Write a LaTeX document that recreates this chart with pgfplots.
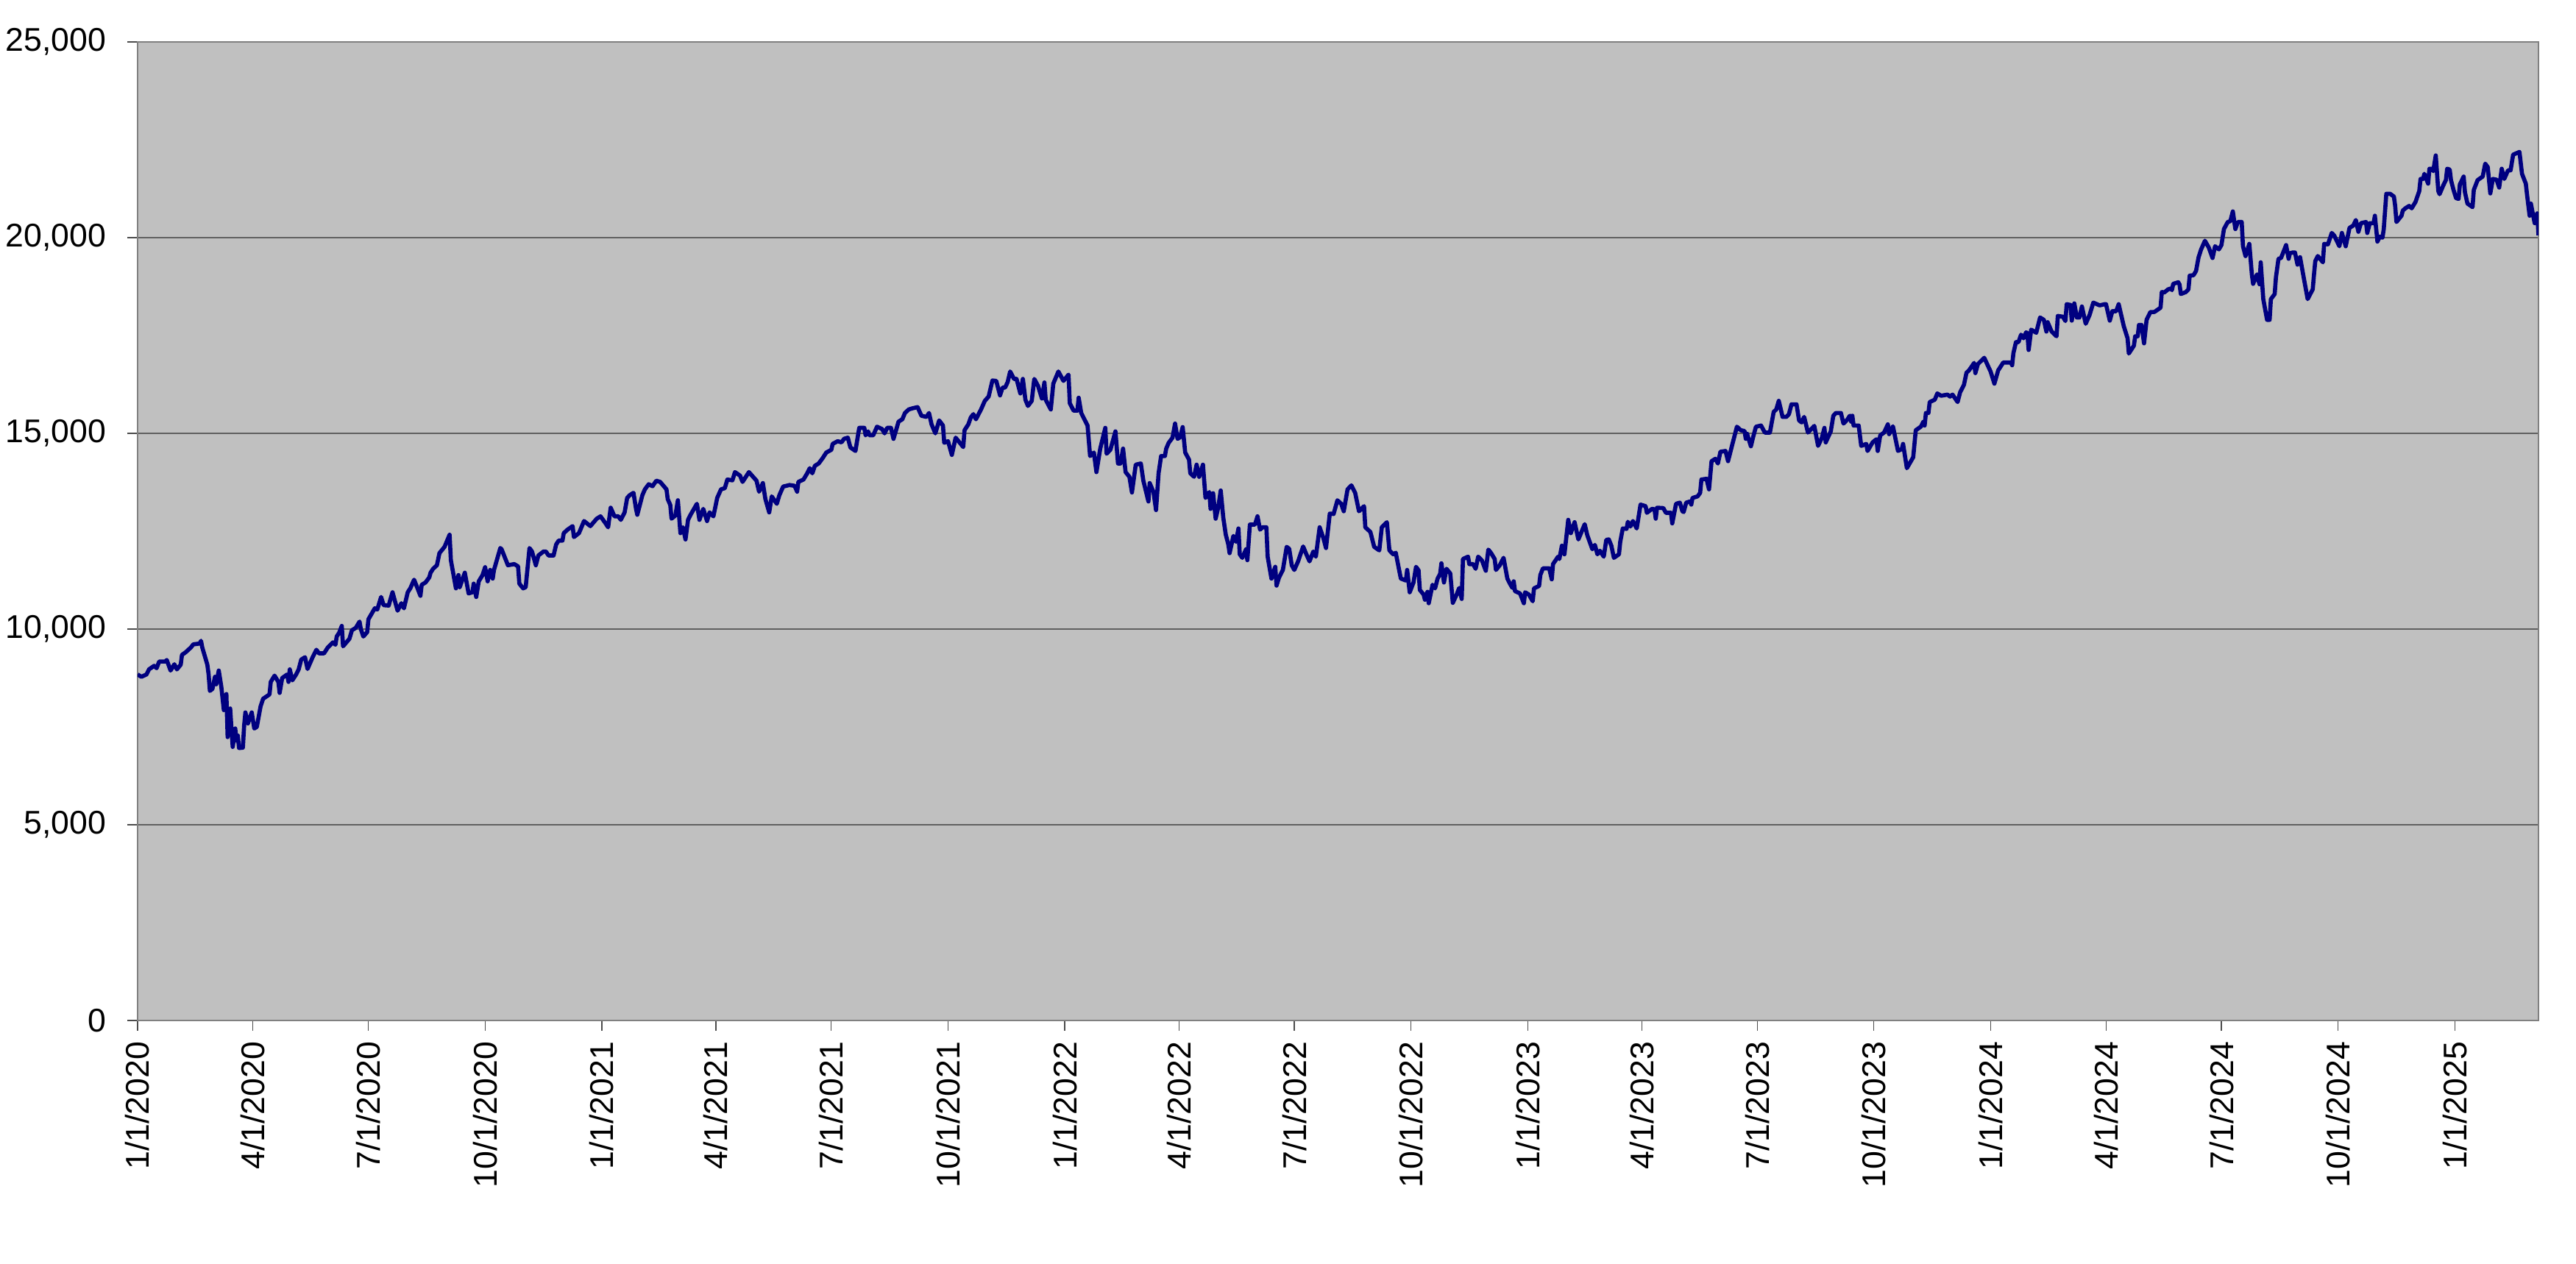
\documentclass[border=0pt]{standalone}
\usepackage{pgfplots}
\pgfplotsset{compat=1.18}
\usepackage{fontspec}
\setmainfont{Liberation Sans}
\definecolor{plotbg}{HTML}{C0C0C0}
\definecolor{navyline}{HTML}{000080}
\definecolor{gridc}{HTML}{606060}
\definecolor{framec}{HTML}{808080}
\begin{document}
\begin{tikzpicture}
\useasboundingbox (-18.7mm,-33mm) rectangle (331.4mm,138.7mm);
\begin{axis}[
  at={(0,0)}, anchor=south west,
  scale only axis, width=326.3mm, height=133mm,
  xmin=0, xmax=1893, ymin=0, ymax=25000,
  scaled ticks=false,
  axis background/.style={fill=plotbg},
  axis line style={draw=framec, line width=0.8pt},
  ytick={0,5000,10000,15000,20000,25000},
  xtick={0,91,182,274,366,456,547,639,731,821,912,1004,1096,1186,1277,1369,1461,1552,1643,1735,1827},
  xticklabels={1/1/2020,4/1/2020,7/1/2020,10/1/2020,1/1/2021,4/1/2021,7/1/2021,10/1/2021,1/1/2022,4/1/2022,7/1/2022,10/1/2022,1/1/2023,4/1/2023,7/1/2023,10/1/2023,1/1/2024,4/1/2024,7/1/2024,10/1/2024,1/1/2025},
  xtick pos=bottom, ytick pos=left,
  tick align=outside, major tick length=1.4mm,
  tick style={draw=black!70, line width=0.35pt},
  ymajorgrids, grid style={draw=gridc, line width=0.5pt},
  /pgf/number format/.cd, 1000 sep={,}, assume math mode=true, fixed,
  /pgfplots/.cd,
  ticklabel style={font=\fontsize{12.7}{15}\selectfont, text=black},
  yticklabel style={inner sep=0pt, xshift=-2.8mm},
  xticklabel style={inner sep=0pt, yshift=-1.4mm, rotate=90, anchor=east},
]
\addplot[navyline, line width=1.6pt, mark=none, line join=round] coordinates {
(0,8840)(3,8780)(7,8840)(9,8970)(13,9060)(15,9000)(17,9170)(22,9170)(23,9210)(26,8940)(29,9100)(31,8970)(34,9090)(35,9340)(38,9410)(42,9530)(44,9610)(49,9630)(50,9700)(51,9530)(55,9090)(56,8840)(57,8420)(59,8470)(61,8780)(62,8590)(64,8940)(66,8530)(68,7930)(70,8340)(71,7240)(73,7970)(74,7460)(75,6990)(77,7460)(78,7150)(79,7280)(80,6960)(83,6970)(84,7530)(85,7870)(87,7590)(90,7870)(92,7460)(94,7500)(97,8030)(99,8220)(104,8330)(105,8650)(108,8810)(111,8650)(112,8370)(114,8750)(118,8840)(119,8650)(120,8970)(122,8690)(125,8840)(127,8970)(129,9220)(132,9280)(134,8980)(138,9280)(141,9470)(143,9380)(147,9380)(150,9530)(154,9660)(156,9600)(157,9810)(159,9910)(161,10080)(162,9560)(167,9750)(169,9970)(172,10030)(175,10190)(176,10000)(178,9810)(181,9920)(182,10250)(187,10530)(189,10500)(192,10820)(194,10610)(198,10600)(199,10720)(201,10940)(205,10470)(208,10660)(210,10530)(213,10940)(215,11040)(218,11260)(220,11100)(223,10850)(224,11130)(227,11190)(230,11320)(231,11440)(233,11540)(236,11630)(238,11940)(242,12100)(246,12410)(247,11760)(251,11040)(253,11380)(254,11070)(258,11440)(261,10910)(264,10940)(265,11160)(267,10820)(269,11220)(272,11380)(274,11580)(276,11220)(278,11510)(280,11290)(281,11510)(286,12070)(287,12040)(292,11630)(297,11660)
(300,11600)(301,11160)(304,11040)(306,11070)(309,12070)(311,11980)(314,11630)(316,11880)(320,11980)(322,11980)(324,11880)(328,11880)(330,12160)(332,12260)(335,12260)(336,12450)(339,12540)(343,12630)(344,12350)(348,12450)(352,12760)(357,12630)(362,12820)(365,12880)(369,12700)(371,12600)(373,13100)(376,12880)(379,12880)(381,12790)(384,12980)(386,13350)(388,13420)(391,13480)(393,13070)(394,12920)(398,13420)(400,13570)(403,13700)(406,13650)(409,13790)(412,13760)(417,13570)(418,13320)(420,13170)(421,12820)(424,12900)(426,13290)(428,12450)(430,12600)(432,12290)(434,12790)(436,12920)(441,13200)(443,12790)(446,13070)(449,12760)(451,12980)(454,12880)(457,13350)(460,13570)(463,13600)(465,13820)(469,13800)(471,14010)(475,13920)(477,13760)(482,14010)(485,13900)(488,13790)(490,13510)(493,13730)(495,13320)(498,12980)(500,13390)(504,13200)(506,13420)(509,13640)(514,13680)(518,13660)(520,13510)(521,13760)(525,13820)(528,13980)(530,14110)(532,13980)(534,14170)(537,14230)(540,14360)(543,14510)(547,14580)(548,14730)(552,14800)(555,14770)(557,14860)(560,14890)(562,14640)(566,14550)(568,14950)(569,15140)(573,15140)(574,14950)(576,15050)(577,14950)(580,14950)(583,15170)(587,15110)(589,15000)(591,15140)(594,15140)(596,14860)(600,15300)(603,15360)(605,15520)(608,15610)(611,15640)(615,15670)(618,15450)(622,15420)(624,15520)(626,15230)(629,15000)(632,15330)(635,15200)(636,14760)
(639,14800)(642,14450)(645,14890)(648,14770)(651,14650)(652,15080)(655,15230)(657,15410)(659,15490)(661,15360)(665,15610)(668,15830)(671,15940)(674,16350)(677,16340)(680,15970)(682,16170)(684,16170)(686,16310)(688,16580)(691,16390)(693,16390)(696,16020)(698,16390)(700,15860)(702,15700)(705,15830)(707,16390)(710,16210)(713,15890)(715,16300)(716,15860)(720,15610)(722,16270)(726,16580)(730,16340)(734,16500)(735,15770)(738,15580)(741,15580)(742,15910)(744,15520)(749,15200)(751,14420)(754,14510)(756,14010)(759,14610)(763,15140)(764,14480)(767,14580)(771,15050)(773,14230)(775,14230)(777,14610)(779,14010)(782,13890)(784,13490)(787,14200)(791,14230)(793,13790)(797,13260)(798,13730)(801,13500)(803,13040)(805,13980)(807,14420)(810,14420)(811,14610)(813,14760)(816,14890)(818,15250)(820,14860)(822,14900)(824,15160)(826,14510)(829,14330)(830,13980)(833,13890)(835,14200)(837,13890)(840,14200)(842,13350)(845,13500)(846,13070)(848,13470)(850,12820)(852,13100)(854,13540)(856,12850)(858,12410)(860,12160)(861,11940)(864,12380)(866,12230)(868,12570)(869,11910)(871,11820)(874,12040)(875,11760)(877,12670)(881,12670)(883,12880)(885,12540)(887,12600)(890,12600)(891,11850)(894,11290)(897,11590)(898,11110)(900,11320)(903,11510)(906,12100)(908,12050)(910,11630)(912,11510)(915,11730)(919,12110)(921,11950)(924,11730)(927,11980)(929,11850)(932,12600)(935,12320)(937,12070)(940,12950)(943,12940)(946,13290)(949,13200)(951,13010)(954,13570)(957,13670)(960,13480)(963,13010)(967,13140)(968,12600)(972,12480)(975,12100)(979,12010)(981,12600)(985,12730)(987,12010)(990,11910)(992,11950)
(996,11290)(1000,11240)(1001,11510)(1003,10940)(1006,11190)(1008,11590)(1010,11500)(1011,11000)(1014,10880)(1015,10750)(1017,10950)(1018,10660)(1021,11130)(1023,11040)(1025,11290)(1027,11410)(1028,11680)(1030,11190)(1032,11540)(1035,11420)(1037,10670)(1040,10880)(1042,11050)(1044,10770)(1045,11790)(1049,11850)(1050,11660)(1053,11660)(1055,11540)(1057,11850)(1060,11750)(1063,11490)(1065,12030)(1067,11950)(1070,11790)(1071,11510)(1074,11630)(1077,11820)(1080,11290)(1082,11160)(1084,11050)(1085,11220)(1086,10970)(1090,10910)(1093,10660)(1094,10940)(1097,10880)(1100,10710)(1101,11040)(1105,11100)(1106,11380)(1108,11550)(1113,11550)(1115,11270)(1116,11660)(1120,11850)(1121,11790)(1123,12130)(1125,11910)(1128,12790)(1130,12450)(1133,12730)(1136,12290)(1141,12680)(1143,12400)(1147,12040)(1149,12150)(1151,11910)(1153,12000)(1156,11850)(1158,12280)(1160,12290)(1162,12130)(1164,11820)(1168,11910)(1169,12230)(1171,12570)(1174,12560)(1175,12740)(1177,12620)(1179,12760)(1182,12570)(1185,13180)(1189,13140)(1190,12970)(1194,13070)(1196,13060)(1197,12820)(1198,13100)(1203,13090)(1205,12970)(1209,12970)(1210,12700)(1213,13200)(1216,13230)(1218,13010)(1219,12990)(1221,13230)(1224,13260)(1225,13180)(1226,13350)(1230,13390)(1232,13480)(1233,13820)(1237,13840)(1239,13570)(1241,14290)(1244,14350)(1246,14230)(1248,14530)(1252,14550)(1254,14290)(1257,14670)
(1261,15170)(1264,15080)(1267,15060)(1268,14860)(1269,14990)(1272,14670)(1274,14930)(1276,15170)(1280,15200)(1283,15020)(1287,15020)(1290,15550)(1292,15610)(1294,15830)(1297,15420)(1300,15420)(1302,15490)(1304,15740)(1308,15740)(1310,15330)(1312,15280)(1314,15420)(1317,15020)(1322,15190)(1325,14680)(1328,14890)(1330,15140)(1331,14770)(1335,15050)(1337,15450)(1339,15520)(1343,15520)(1345,15250)(1348,15350)(1350,15450)(1351,15300)(1352,15450)(1353,15200)(1357,15200)(1359,14680)(1363,14730)(1364,14550)(1368,14770)(1371,14850)(1372,14550)(1374,14950)(1377,15020)(1380,15230)(1381,14980)(1384,15180)(1388,14550)(1391,14600)(1392,14730)(1395,14110)(1400,14390)(1402,15080)(1406,15170)(1408,15300)(1409,15200)(1410,15520)(1412,15520)(1413,15800)(1417,15860)(1419,16020)(1422,15960)(1427,15990)(1429,15940)(1431,15990)(1435,15800)(1437,16050)(1440,16240)(1442,16550)(1444,16610)(1447,16750)(1448,16800)(1449,16540)(1451,16770)(1456,16930)(1461,16580)(1464,16270)(1467,16610)(1471,16810)(1477,16810)(1478,16740)(1479,17050)
(1481,17330)(1483,17330)(1485,17520)(1487,17430)(1489,17580)(1490,17560)(1491,17130)(1493,17650)(1497,17570)(1500,17960)(1503,17900)(1505,17600)(1506,17840)(1509,17610)(1513,17480)(1514,18000)(1518,17980)(1520,17870)(1521,18300)(1524,18280)(1525,17880)(1527,18320)(1529,17960)(1531,17960)(1533,18240)(1536,17800)(1539,18020)(1542,18340)(1547,18270)(1551,18300)(1552,18300)(1555,17880)(1557,18120)(1560,18120)(1562,18300)(1564,18020)(1566,17740)(1569,17430)(1570,17040)(1574,17240)(1575,17480)(1577,17480)(1578,17770)(1580,17770)(1582,17300)(1584,17900)(1587,18100)(1590,18100)(1591,18120)(1595,18210)(1596,18610)(1598,18600)(1601,18680)(1603,18700)(1604,18660)(1605,18820)(1609,18860)(1610,18800)(1611,18560)(1615,18610)(1617,18680)(1618,19030)(1621,19040)(1623,19150)(1625,19500)(1627,19700)(1630,19920)(1633,19750)(1636,19480)(1638,19780)(1641,19700)(1643,19810)(1645,20220)(1648,20400)(1650,20420)(1652,20670)(1654,20220)(1656,20400)(1659,20400)(1660,19780)(1662,19530)(1665,19840)(1667,19060)(1668,18820)(1671,19060)(1673,18810)(1674,19370)(1676,18430)(1679,17900)(1681,17900)(1682,18430)(1685,18560)(1686,18990)(1688,19460)(1690,19480)(1694,19810)(1696,19460)(1697,19600)(1699,19620)(1701,19620)(1703,19310)(1705,19500)(1708,18960)(1711,18430)(1715,18680)(1716,19060)(1717,19400)(1719,19530)(1723,19370)(1724,19840)(1727,19830)(1730,20120)(1732,20050)(1736,19780)(1738,20120)(1741,19780)(1744,20250)(1747,20310)(1749,20450)(1751,20150)(1753,20370)(1757,20400)(1758,20120)(1760,20370)(1763,20370)(1764,20560)(1766,19900)(1768,20030)(1770,20000)(1771,20220)(1773,21120)(1776,21120)(1779,21050)(1780,20810)(1781,20400)(1785,20560)(1786,20690)(1788,20750)(1791,20810)(1793,20750)(1796,20910)(1799,21190)(1800,21500)(1802,21500)(1803,21630)(1806,21380)(1807,21760)(1809,21760)(1810,21700)(1812,22100)(1814,21190)(1815,21110)(1818,21340)(1820,21470)(1821,21760)(1823,21740)(1824,21470)(1826,21220)(1828,21010)(1830,20990)(1831,21360)(1834,21560)(1835,21160)(1837,20870)(1841,20780)(1842,21220)(1845,21470)(1849,21560)(1851,21890)(1853,21800)(1855,21130)(1857,21500)(1860,21480)(1862,21280)(1864,21760)(1866,21500)(1869,21720)(1871,21720)(1873,22120)(1878,22190)(1880,21630)(1883,21380)(1884,21090)(1886,20560)(1887,20870)(1888,20700)(1890,20370)(1892,20620)(1893,20060)
};
\end{axis}
\end{tikzpicture}
\end{document}
